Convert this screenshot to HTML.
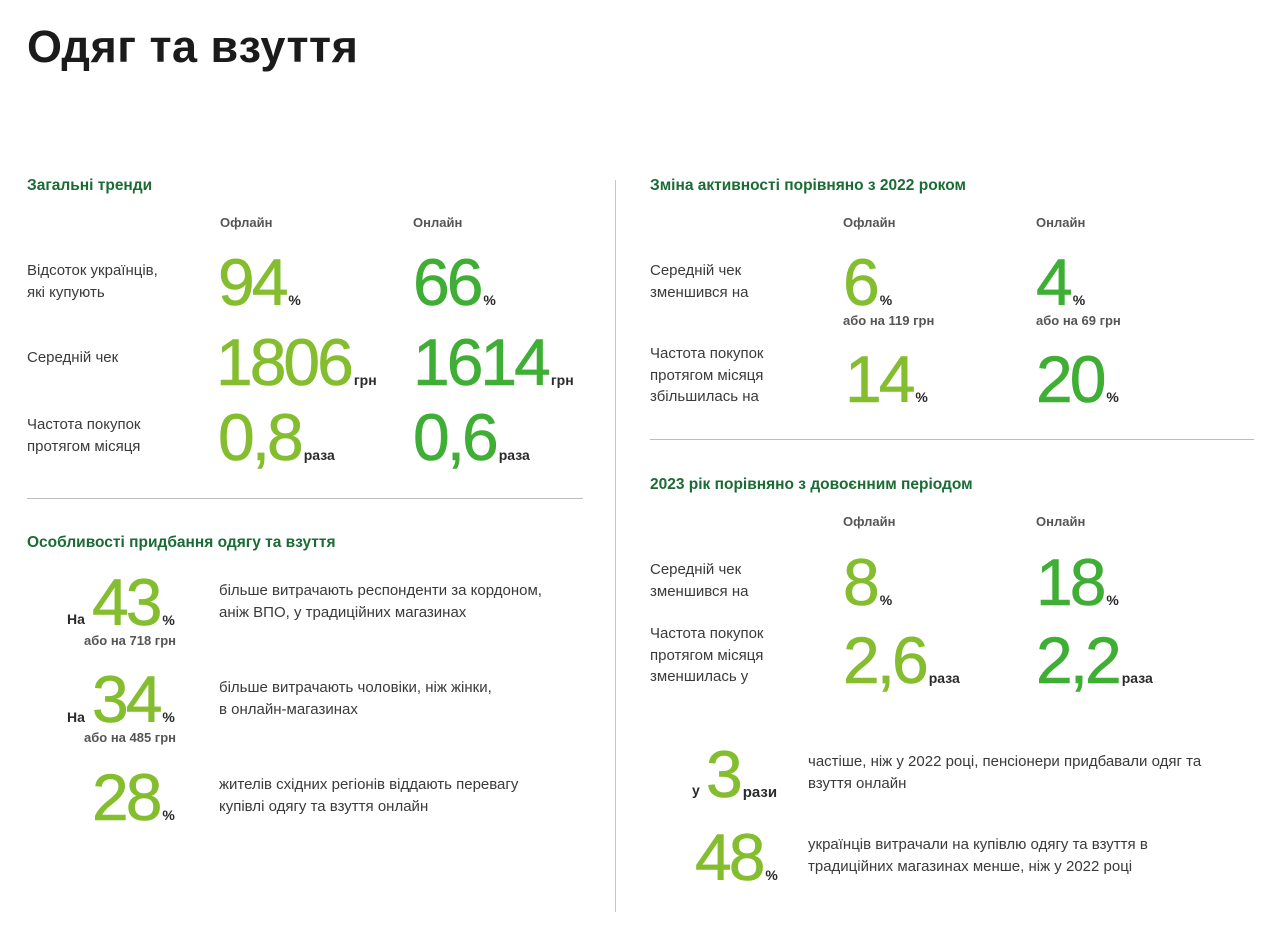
<!DOCTYPE html>
<html><head><meta charset="utf-8"><style>
body{margin:0;width:1282px;height:936px;background:#fff;font-family:"Liberation Sans",sans-serif;position:relative;overflow:hidden;color:#3a3a3a}
div{position:absolute;white-space:nowrap}
.t{font-size:45px;font-weight:bold;color:#1b1b1b;left:27px;top:21px;letter-spacing:0.5px}
.h{font-size:15.5px;font-weight:bold;color:#1a6b34;line-height:18px}
.c{font-size:13px;font-weight:bold;color:#555;line-height:16px}
.l{font-size:15px;line-height:21.5px;color:#3a3a3a}
.n{font-size:66px;line-height:66px;letter-spacing:-3px;font-weight:normal;-webkit-text-stroke:0.6px currentColor}
.n small{font-size:14px;font-weight:bold;color:#2a2a2a;letter-spacing:0;margin-left:3px;-webkit-text-stroke:0}
.a{color:#84bd2e}.b{color:#3fae35}
.s{font-size:13px;font-weight:bold;color:#555}
.p{font-size:14px;font-weight:bold;color:#2a2a2a}
.hr{height:1px;background:#bdbdbd}
</style></head><body>
<div class="t">Одяг та взуття</div>
<div style="left:615px;top:180px;width:1px;height:732px;background:#c8c8c8"></div>
<div class="hr" style="left:27px;top:498px;width:556px"></div>
<div class="hr" style="left:650px;top:439px;width:604px"></div>

<div class="h" style="left:27px;top:177px">Загальні тренди</div>
<div class="c" style="left:220px;top:215px">Офлайн</div>
<div class="c" style="left:413px;top:215px">Онлайн</div>
<div class="l" style="left:27px;top:260px">Відсоток українців,<br>які купують</div>
<div class="l" style="left:27px;top:347px">Середній чек</div>
<div class="l" style="left:27px;top:414px">Частота покупок<br>протягом місяця</div>
<div class="n a" style="left:218px;top:249px">94<small>%</small></div>
<div class="n b" style="left:413px;top:249px">66<small>%</small></div>
<div class="n a" style="left:216px;top:329px">1806<small>грн</small></div>
<div class="n b" style="left:413px;top:329px">1614<small>грн</small></div>
<div class="n a" style="left:218px;top:404px">0,8<small>раза</small></div>
<div class="n b" style="left:413px;top:404px">0,6<small>раза</small></div>

<div class="h" style="left:27px;top:534px">Особливості придбання одягу та взуття</div>
<div class="p" style="left:67px;top:611px">На</div>
<div class="n a" style="left:92px;top:569px">43<small>%</small></div>
<div class="s" style="left:84px;top:633px">або на 718 грн</div>
<div class="l" style="left:219px;top:580px">більше витрачають респонденти за кордоном,<br>аніж ВПО, у традиційних магазинах</div>
<div class="p" style="left:67px;top:709px">На</div>
<div class="n a" style="left:92px;top:666px">34<small>%</small></div>
<div class="s" style="left:84px;top:730px">або на 485 грн</div>
<div class="l" style="left:219px;top:677px">більше витрачають чоловіки, ніж жінки,<br>в онлайн-магазинах</div>
<div class="n a" style="left:92px;top:764px">28<small>%</small></div>
<div class="l" style="left:219px;top:774px">жителів східних регіонів віддають перевагу<br>купівлі одягу та взуття онлайн</div>

<div class="h" style="left:650px;top:177px">Зміна активності порівняно з 2022 роком</div>
<div class="c" style="left:843px;top:215px">Офлайн</div>
<div class="c" style="left:1036px;top:215px">Онлайн</div>
<div class="l" style="left:650px;top:260px">Середній чек<br>зменшився на</div>
<div class="n a" style="left:843px;top:249px">6<small>%</small></div>
<div class="n b" style="left:1036px;top:249px">4<small>%</small></div>
<div class="s" style="left:843px;top:313px">або на 119 грн</div>
<div class="s" style="left:1036px;top:313px">або на 69 грн</div>
<div class="l" style="left:650px;top:343px">Частота покупок<br>протягом місяця<br>збільшилась на</div>
<div class="n a" style="left:845px;top:346px">14<small>%</small></div>
<div class="n b" style="left:1036px;top:346px">20<small>%</small></div>

<div class="h" style="left:650px;top:476px">2023 рік порівняно з довоєнним періодом</div>
<div class="c" style="left:843px;top:514px">Офлайн</div>
<div class="c" style="left:1036px;top:514px">Онлайн</div>
<div class="l" style="left:650px;top:559px">Середній чек<br>зменшився на</div>
<div class="n a" style="left:843px;top:549px">8<small>%</small></div>
<div class="n b" style="left:1036px;top:549px">18<small>%</small></div>
<div class="l" style="left:650px;top:623px">Частота покупок<br>протягом місяця<br>зменшилась у</div>
<div class="n a" style="left:843px;top:627px">2,6<small>раза</small></div>
<div class="n b" style="left:1036px;top:627px">2,2<small>раза</small></div>

<div class="p" style="left:692px;top:782px">у</div>
<div class="n a" style="left:706px;top:741px">3<small style="font-size:15px">рази</small></div>
<div class="l" style="left:808px;top:751px">частіше, ніж у 2022 році, пенсіонери придбавали одяг та<br>взуття онлайн</div>
<div class="n a" style="left:695px;top:824px">48<small>%</small></div>
<div class="l" style="left:808px;top:834px">українців витрачали на купівлю одягу та взуття в<br>традиційних магазинах менше, ніж у 2022 році</div>
</body></html>
